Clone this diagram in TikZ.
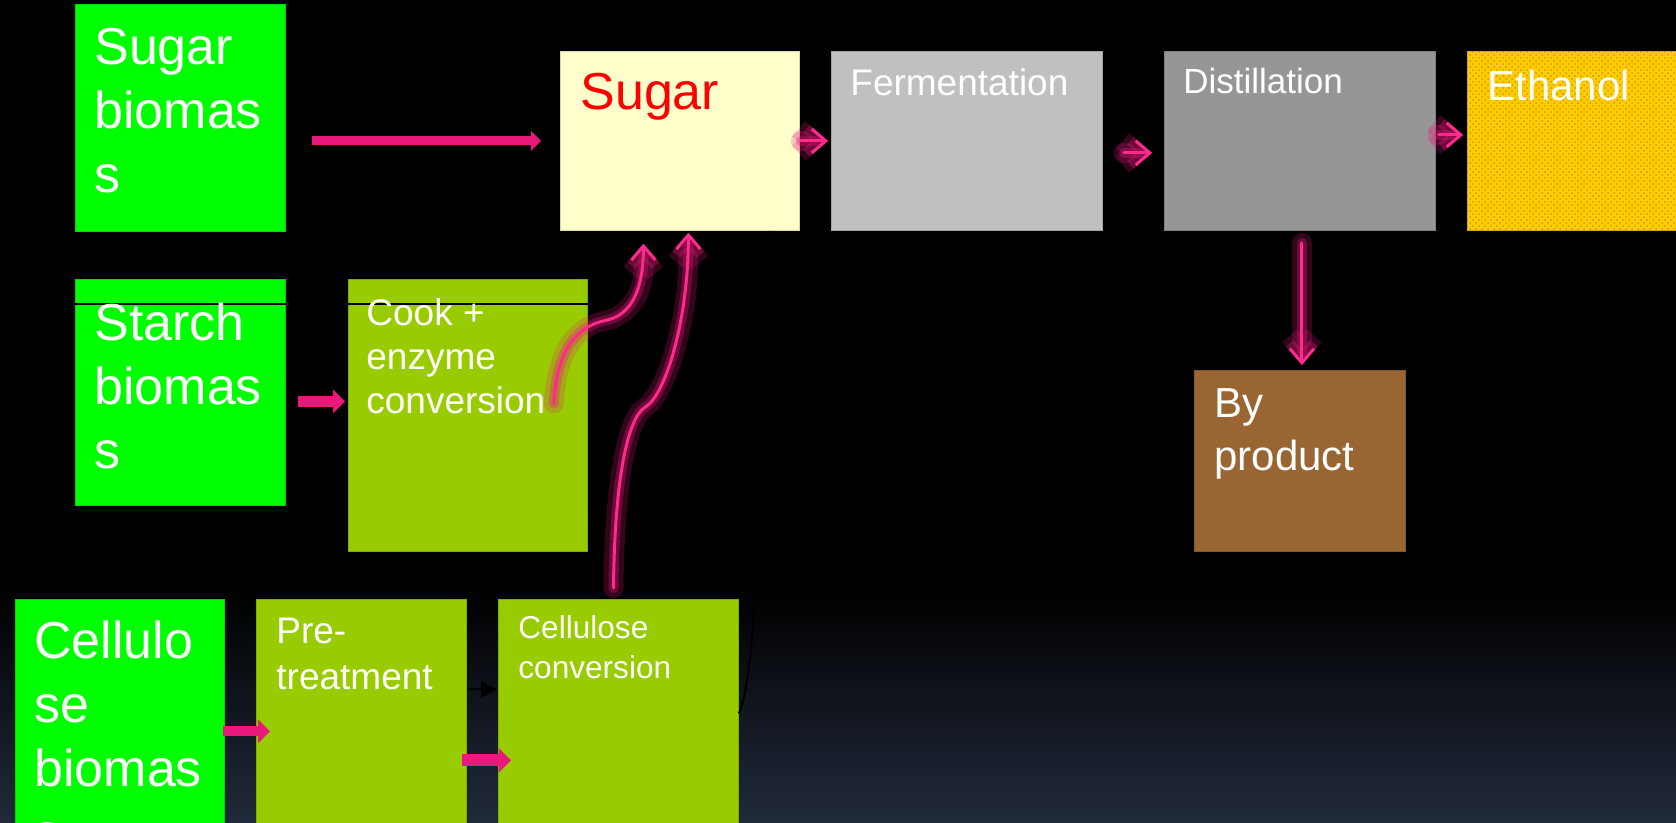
\documentclass[tikz,border=0pt]{standalone}
\usepackage{fontspec}
\setmainfont{Liberation Sans}
\usetikzlibrary{arrows.meta,calc,patterns}
\definecolor{biogreen}{HTML}{00FF00}
\definecolor{stepgreen}{HTML}{99CC00}
\definecolor{sugarfill}{HTML}{FFFFCC}
\definecolor{fermgray}{HTML}{C0C0C0}
\definecolor{distgray}{HTML}{969696}
\definecolor{ethyellow}{HTML}{FFCC00}
\definecolor{ethdot}{HTML}{C99A00}
\definecolor{bybrown}{HTML}{996633}
\definecolor{arrowpink}{HTML}{E8197A}
\definecolor{glowpink}{HTML}{FF2A8C}
\definecolor{navybot}{HTML}{212A3B}
\begin{document}
\begin{tikzpicture}[x=0.5pt, y=-0.5pt,
	box/.style={anchor=north west, inner sep=0, fill=#1, draw=#1!85!black, line width=.4pt},
	txt/.style={anchor=north west, inner sep=0, text=white, align=left},
	bigtext/.style={font=\fontsize{26}{32}\selectfont},
	fat/.style={draw=arrowpink, line width=#1, -{Triangle[length=6pt, width=12pt, line width=0pt]}},
	glow/.style={draw=glowpink, line width=1.5pt, line cap=round, line join=round,
		-{Straight Barb[length=7pt, width=12pt]},
		preaction={draw=arrowpink, line width=10pt, opacity=.22, line cap=round, line join=round},
		preaction={draw=arrowpink, line width=5pt, opacity=.32, line cap=round, line join=round}}]
	\clip (0,0) rectangle (1676,823);
	% background
	\fill[black] (0,0) rectangle (1676,823);
	\shade[top color=black, bottom color=navybot] (0,590) rectangle (1676,823);
	% top row
	\node[box=biogreen, minimum width=104.75pt, minimum height=113.5pt] (sb) at (75,4) {};
	\node[box=sugarfill, minimum width=119.5pt, minimum height=89.5pt] (sug) at (560,51) {};
	\node[box=fermgray, minimum width=135.5pt, minimum height=89.5pt] (ferm) at (831,51) {};
	\node[box=distgray, minimum width=135.5pt, minimum height=89.5pt] (dist) at (1164,51) {};
	\node[box=ethyellow, minimum width=107.5pt, minimum height=89.5pt] (eth) at (1467,51) {};
	\fill[pattern=crosshatch dots, pattern color=ethdot] (eth.north west) rectangle (eth.south east);
	% middle row
	\node[box=biogreen, minimum width=104.75pt, minimum height=113pt] (st) at (75,279) {};
	\node[box=stepgreen, minimum width=119.5pt, minimum height=136pt] (cook) at (348,279) {};
	\node[box=bybrown, minimum width=105.5pt, minimum height=90.5pt] (byp) at (1194,370) {};
	\draw[black, line width=.6pt] ([yshift=-12.5pt]st.north west) -- ([yshift=-12.5pt]cook.north east);
	% bottom row
	\node[box=biogreen, minimum width=104.5pt, minimum height=115pt] (cb) at (15,599) {};
	\node[box=stepgreen, minimum width=105pt, minimum height=115pt] (pt) at (256,599) {};
	\node[box=stepgreen, minimum width=120pt, minimum height=115pt] (cc) at (498,599) {};
	% labels
	\node[txt, bigtext] (sbt) at (94,28) {Sugar\\biomas\\s};
	\node[txt, text=red, font=\fontsize{26}{32}\selectfont] (sugt) at (580,73) {Sugar};
	\node[txt, font=\fontsize{18.5}{22}\selectfont] (fermt) at (850,68) {Fermentation};
	\node[txt, font=\fontsize{17.5}{22}\selectfont] (distt) at (1183,68) {Distillation};
	\node[txt, font=\fontsize{21}{26}\selectfont] (etht) at (1487,70) {Ethanol};
	\node[txt, bigtext] (stt) at (94,302) {Starch\\biomas\\s};
	\node[txt, font=\fontsize{18.5}{22}\selectfont] (cookt) at (366,298) {Cook +\\enzyme\\conversion};
	\node[txt, font=\fontsize{21}{26.5}\selectfont] (bypt) at (1214,388) {By\\product};
	\node[txt, bigtext] (cbt) at (34,620) {Cellulo\\se\\biomas\\s};
	\node[txt, font=\fontsize{18.5}{23}\selectfont] (ptt) at (276,618) {Pre-\\treatment};
	\node[txt, font=\fontsize{15.8}{20}\selectfont] (cct) at (518,615) {Cellulose\\conversion};
	% thick arrows
	\draw[fat=4.5pt, -{Triangle[length=5pt, width=10pt, line width=0pt]}, shorten <=13.25pt, shorten >=9.5pt]
		(sb.east |- sug.west) -- (sug.west);
	\draw[fat=5.5pt, shorten <=6.25pt, shorten >=1.5pt] ([yshift=-4.5pt]st.east) -- ([yshift=-4.5pt]st.east -| cook.west);
	\draw[fat=5pt, shorten <=-1pt, shorten >=-7pt] ([yshift=-8.5pt]cb.east) -- ([yshift=-8.5pt]pt.west);
	\draw[fat=6pt, shorten <=-2.5pt, shorten >=-6.5pt] ([yshift=-23pt]pt.east) -- ([yshift=-23pt]cc.west);
	% black links
	\draw[black, line width=1pt, -{Triangle[length=8pt, width=8pt]}, shorten <=.5pt, shorten >=.5pt]
		([yshift=12.5pt]pt.east) -- ([yshift=12.5pt]cc.west);
	\draw[black, line width=1pt] ([yshift=.5pt]cc.east) .. controls +(20,-40) and +(-8,200) .. ([xshift=44.75pt]sug.south);
	% glowing arrows
	\draw[glow, shorten <=.5pt, shorten >=1.5pt] (sug.east) -- (ferm.west);
	\draw[glow, shorten <=10.5pt, shorten >=6pt] ([yshift=-6pt]ferm.east) -- ([yshift=-6pt]dist.west);
	\draw[glow, shorten <=1.5pt, shorten >=2pt] ([yshift=3pt]dist.east) -- ([yshift=3pt]eth.west);
	\draw[glow, shorten <=6pt, shorten >=2.5pt] ([xshift=1pt]dist.south) -- ([xshift=1pt]byp.north);
	\coordinate (ck) at ($(cook.east)+(-34,-12)$);
	\coordinate (ckbend) at ($(ck)+(52,-83)$);
	\draw[glow, shorten >=6.5pt] (ck) .. controls +(3,-53) and +(-30,6) .. (ckbend)
		.. controls +(25,-5) and +(0,60) .. ([xshift=-18.25pt]sug.south);
	\coordinate (ccbend) at ($(cc.north)+(27,-192)$);
	\draw[glow, shorten <=5.5pt, shorten >=1pt] ([xshift=-2.5pt]cc.north) .. controls +(1,-108) and +(-20,12) .. (ccbend)
		.. controls +(20,-12) and +(0,90) .. ([xshift=4.25pt]sug.south);
\end{tikzpicture}
\end{document}
